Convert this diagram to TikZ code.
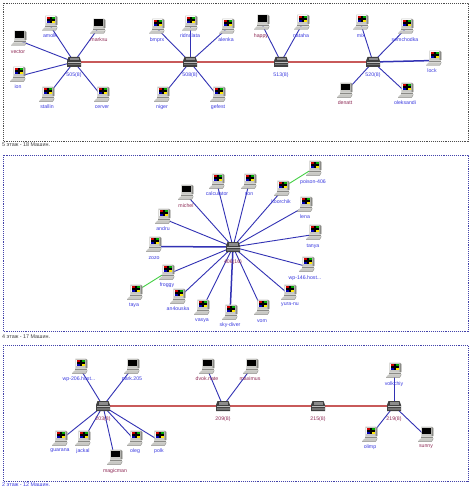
\documentclass[tikz,border=0pt]{standalone}
\usepackage{fontspec}
\setmainfont{Liberation Sans}
\definecolor{lblue}{HTML}{3A3AE0}
\definecolor{lred}{HTML}{8E2A55}
\definecolor{wire}{HTML}{3232B4}
\definecolor{trunk}{HTML}{C85A5A}
\definecolor{gwire}{HTML}{44D044}
\definecolor{pcgray}{HTML}{C8C8C4}
\definecolor{pcdark}{HTML}{8A8A86}
\tikzset{
  hostbox/.style={rectangle,minimum width=16pt,minimum height=15pt,inner sep=0pt},
  hubbox/.style={rectangle,minimum width=14pt,minimum height=10pt,inner sep=0pt},
  lbl/.style={inner sep=0pt,font=\fontsize{5.2}{6}\selectfont},
  captext/.style={inner sep=0pt,anchor=west,font=\fontsize{5.4}{6}\selectfont},
  netlink/.style={wire,line width=0.9pt},
  fatlink/.style={wire,line width=1.5pt},
  trunkline/.style={trunk,line width=1.4pt},
  glink/.style={gwire,line width=0.9pt},
  panel/.style={line width=0.6pt,dash pattern=on 0.8pt off 1.1pt},
  pcbody/.pic={
    \fill[pcgray] (-4.7,-7.3) -- (6,-7.3) -- (7.3,-6) -- (7.3,2) -- (-4.7,2) -- cycle;
    \fill[pcdark] (5.6,-7) -- (7.3,-6) -- (7.3,2) -- (5.6,2) -- cycle;
    \fill[pcgray!80!white] (-5,2) -- (7.3,2) -- (7.3,4.5) -- (-5,4.5) -- cycle;
    \fill[pcgray] (-8,7.3) -- (-5.5,4.5) -- (7.3,4.5) -- (5.8,7.3) -- cycle;
    \draw[pcdark,line width=0.4pt] (-8,7.3) -- (5.8,7.3) -- (7.3,4.5);
    \draw[pcdark,line width=0.3pt] (-5,3.2) -- (7,3.2);
  },
  pcw/.pic={
    \pic {pcbody};
    \fill[white!85!pcgray] (-3.7,-6.5) rectangle (5.1,0.2);
    \fill[red!80!black] (-3.2,-6) rectangle (0.2,-3.6);
    \fill[green!65!black] (1.6,-6) rectangle (4.7,-3.6);
    \fill[blue!70!black] (-3.2,-2.4) rectangle (0.2,-0.1);
    \fill[yellow!90!orange] (1.6,-2.4) rectangle (4.7,-0.1);
    \fill[black] (-0.1,-6.3) rectangle (1.9,0);
    \fill[black] (-3.4,-4) rectangle (4.9,-2.2);
  },
  pcb/.pic={
    \pic {pcbody};
    \fill[black] (-3.7,-6.5) rectangle (5.1,0.2);
  },
  swbody/.pic={
    \fill[black!75] (-5.5,-5) -- (5.5,-5) -- (7,-1) -- (7,5) -- (-7,5) -- (-7,-1) -- cycle;
    \fill[black!45] (-4.5,-4) rectangle (4.5,-1.5);
    \fill[black!25] (-6.5,0) rectangle (6.5,1.2);
    \fill[black!55] (-6.5,2) rectangle (6.5,3.5);
  }
}
% name, x, y, pic, label x, label y, colour, text
\newcommand{\PC}[8]{%
  \node[hostbox] (#1) at (#2,#3) {};
  \pic at (#2,#3) {#4};
  \node[lbl,text=#7] (#1-l) at (#5,#6) {#8};
}
% name, x, y, label y, colour, text
\newcommand{\SW}[6]{%
  \node[hubbox] (#1) at (#2,#3) {};
  \pic at (#2,#3) {swbody};
  \node[lbl,text=#5] (#1-l) at (#2,#4) {#6};
}
\pgfdeclarelayer{wires}
\pgfsetlayers{wires,main}
\begin{document}
\begin{tikzpicture}[x=1pt,y=-1pt]
\useasboundingbox (0,0) rectangle (474,495);
\begin{pgfonlayer}{wires}
\fill[white] (0,0) rectangle (474,495);
\end{pgfonlayer}
% panels
\draw[panel,black!70] (3,3) rectangle (468,141);
\draw[panel,wire!80!gray] (3,155) rectangle (468,331);
\draw[panel,wire!80!gray] (3,345) rectangle (468,481);
\node[captext,text=black!75] (cap5) at (2,145) {5 этаж - 18 Машин.};
\node[captext,text=black!75] (cap4) at (2,337) {4 этаж - 17 Машин.};
\node[captext,text=lblue] (cap2) at (2,485) {2 этаж - 12 Машин.};
% floor 5
\SW{s505}{74}{62}{75}{lblue}{505(8)}
\SW{s508}{190}{62}{75}{lblue}{508(8)}
\SW{s513}{281}{62}{75}{lblue}{513(8)}
\SW{s520}{373}{62}{75}{lblue}{520(8)}
\PC{vector}{19}{38}{pcb}{18}{52}{lred}{vector}
\PC{amoli}{50}{23}{pcw}{50}{36}{lblue}{amolk}
\PC{marksu}{98}{26}{pcb}{99}{40}{lred}{marksu}
\PC{ion}{18}{74}{pcw}{18}{87}{lblue}{ion}
\PC{stallin}{47}{94}{pcw}{47}{107}{lblue}{stallin}
\PC{cerver}{102}{94}{pcw}{102}{107}{lblue}{cerver}
\PC{bmprx}{157}{26}{pcw}{157}{40}{lblue}{bmprx}
\PC{ridna}{190}{23}{pcw}{190}{36}{lblue}{ridnalata}
\PC{alenka}{227}{26}{pcw}{226}{40}{lblue}{alenka}
\PC{niger}{162}{94}{pcw}{162}{107}{lblue}{niger}
\PC{gefest}{218}{94}{pcw}{218}{107}{lblue}{gefest}
\PC{happy}{262}{22}{pcb}{261}{36}{lred}{happy}
\PC{nataha}{302}{22}{pcw}{301}{36}{lblue}{nataha}
\PC{mix}{361}{22}{pcw}{361}{36}{lblue}{mix}
\PC{semch}{406}{26}{pcw}{405}{40}{lblue}{semchodka}
\PC{lock}{434}{58}{pcw}{432}{71}{lblue}{lock}
\PC{oleks}{406}{90}{pcw}{405}{103}{lblue}{oleksandi}
\PC{denatt}{345}{90}{pcb}{345}{103}{lred}{denatt}
% floor 4
\SW{s406}{233}{247}{262}{lred}{406(16)}
\PC{michel}{186}{192}{pcb}{186}{206}{lred}{michel}
\PC{calc}{217}{181}{pcw}{217}{194}{lblue}{calculator}
\PC{son}{249}{181}{pcw}{249}{194}{lblue}{son}
\PC{koor}{282}{188}{pcw}{281}{202}{lblue}{koorchik}
\PC{poison}{314}{168}{pcw}{313}{182}{lblue}{poison-406}
\PC{lena}{305}{204}{pcw}{305}{217}{lblue}{lena}
\PC{tanya}{314}{232}{pcw}{313}{246}{lblue}{tanya}
\PC{wp146}{307}{264}{pcw}{305}{278}{lblue}{wp-146.host...}
\PC{yura}{289}{292}{pcw}{290}{305}{lblue}{yura-nu}
\PC{vom}{262}{307}{pcw}{262}{321}{lblue}{vom}
\PC{sky}{230}{312}{pcw}{230}{325}{lblue}{sky-diver}
\PC{vasya}{202}{307}{pcw}{202}{321}{lblue}{vasya}
\PC{an4}{178}{296}{pcw}{178}{309}{lblue}{an4ouska}
\PC{froggy}{167}{272}{pcw}{167}{285}{lblue}{froggy}
\PC{taya}{135}{292}{pcw}{134}{305}{lblue}{taya}
\PC{zozo}{154}{244}{pcw}{154}{258}{lblue}{zozo}
\PC{andru}{163}{216}{pcw}{163}{229}{lblue}{andru}
% floor 2
\SW{s203}{103}{406}{419}{lred}{203(8)}
\SW{s209}{223}{406}{419}{lred}{209(8)}
\SW{s215}{318}{406}{419}{lred}{215(8)}
\SW{s219}{394}{406}{419}{lred}{219(8)}
\PC{wp206}{80}{366}{pcw}{79}{379}{lblue}{wp-206.host...}
\PC{park}{132}{366}{pcb}{132}{379}{lblue}{park.205}
\PC{guarana}{60}{438}{pcw}{60}{451}{lblue}{guarana}
\PC{jackal}{83}{438}{pcw}{83}{451}{lblue}{jackal}
\PC{magic}{115}{457}{pcb}{115}{471}{lred}{magicman}
\PC{oleg}{135}{438}{pcw}{135}{451}{lblue}{oleg}
\PC{polk}{159}{438}{pcw}{159}{451}{lblue}{polk}
\PC{dvok}{207}{366}{pcb}{207}{379}{lred}{dvok.nate}
\PC{maximus}{251}{366}{pcb}{250}{379}{lred}{maximus}
\PC{volk}{394}{370}{pcw}{394}{384}{lblue}{volkchiy}
\PC{olimp}{370}{434}{pcw}{370}{447}{lblue}{olimp}
\PC{sunny}{426}{434}{pcb}{426}{447}{lred}{sunny}
% connectors
\begin{pgfonlayer}{wires}
\foreach \a/\b in {s505/s508,s508/s513,s513/s520,s203/s209,s209/s215,s215/s219}
  \draw[trunkline] (\a.center) -- (\b.center);
\foreach \h/\p in {s505/vector,s505/amoli,s505/marksu,s505/ion,s505/stallin,s505/cerver,
  s508/bmprx,s508/ridna,s508/alenka,s508/niger,s508/gefest,
  s513/happy,s513/nataha,
  s520/mix,s520/semch,s520/oleks,s520/denatt,
  s406/michel,s406/calc,s406/son,s406/koor,s406/lena,s406/tanya,s406/wp146,s406/yura,s406/vom,
  s406/vasya,s406/an4,s406/froggy,s406/andru,
  s203/wp206,s203/park,s203/guarana,s203/jackal,s203/magic,s203/oleg,s203/polk,
  s209/dvok,s209/maximus,
  s219/volk,s219/olimp,s219/sunny}
  \draw[netlink] (\h.center) -- ([yshift=-2.5pt]\p.center);
\foreach \h/\p in {s520/lock,s406/zozo,s406/sky}
  \draw[fatlink] (\h.center) -- ([yshift=-2.5pt]\p.center);
\foreach \a/\b in {koor/poison,froggy/taya}
  \draw[glink] (\a.center) -- (\b.center);
\end{pgfonlayer}
\end{tikzpicture}
\end{document}
